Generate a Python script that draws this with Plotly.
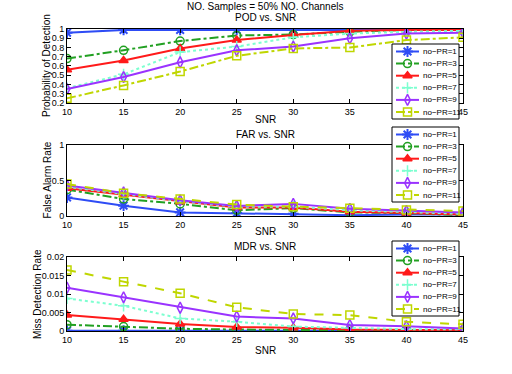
import plotly.graph_objects as go

# SNR values shared by all three panels
snr = [10, 15, 20, 25, 30, 35, 40, 45]
names = ["no\u2212PR=1", "no\u2212PR=3", "no\u2212PR=5", "no\u2212PR=7", "no\u2212PR=9", "no\u2212PR=11"]

# Probability of detection
pod_pr1 = [0.96, 0.99, 0.99, 0.99, 0.995, 0.995, 0.99, 0.99]
pod_pr3 = [0.68, 0.77, 0.87, 0.93, 0.94, 0.97, 0.99, 0.99]
pod_pr5 = [0.56, 0.66, 0.79, 0.88, 0.935, 0.98, 0.99, 0.99]
pod_pr7 = [0.36, 0.51, 0.75, 0.81, 0.91, 0.95, 0.97, 0.98]
pod_pr9 = [0.35, 0.48, 0.64, 0.77, 0.81, 0.90, 0.95, 0.96]
pod_pr11 = [0.25, 0.39, 0.54, 0.71, 0.79, 0.80, 0.88, 0.91]

# False alarm rate
far_pr1 = [0.26, 0.145, 0.05, 0.04, 0.03, 0.01, 0.02, 0.02]
far_pr3 = [0.37, 0.24, 0.17, 0.08, 0.11, 0.05, 0.04, 0.01]
far_pr5 = [0.39, 0.30, 0.20, 0.12, 0.12, 0.06, 0.04, 0.02]
far_pr7 = [0.41, 0.31, 0.21, 0.13, 0.13, 0.08, 0.05, 0.03]
far_pr9 = [0.43, 0.33, 0.22, 0.14, 0.17, 0.10, 0.07, 0.05]
far_pr11 = [0.45, 0.32, 0.24, 0.16, 0.13, 0.11, 0.085, 0.07]

# Miss detection rate
mdr_pr1 = [0.0001, 0.0001, 0.0001, 0.0001, 0.0001, 0.0001, 0.0001, 0.0001]
mdr_pr3 = [0.0017, 0.0012, 0.0006, 0.0004, 0.0002, 0.0002, 0.0001, 0.0001]
mdr_pr5 = [0.0043, 0.0032, 0.0019, 0.0011, 0.0009, 0.0004, 0.0003, 0.0002]
mdr_pr7 = [0.0088, 0.0068, 0.0034, 0.0025, 0.0012, 0.0008, 0.0005, 0.0005]
mdr_pr9 = [0.0117, 0.0091, 0.0063, 0.0039, 0.0034, 0.0016, 0.0013, 0.0007]
mdr_pr11 = [0.0165, 0.0133, 0.0102, 0.0064, 0.0046, 0.0043, 0.0025, 0.0018]

colors = ["#2e4cf5", "#22a022", "#ff1a1a", "#7dffd0", "#9a33ff", "#bfd600"]
symbols = ["asterisk-open", "circle-open", "triangle-up", "cross-thin-open", "diamond-tall-open", "square-open"]
dashes_top = ["solid", "dashdot", "solid", "dot", "solid", "dashdot"]
dashes = ["solid", "dashdot", "solid", "dot", "solid", "dash"]

panels = [
    ([pod_pr1, pod_pr3, pod_pr5, pod_pr7, pod_pr9, pod_pr11], "x", "y", dashes_top),
    ([far_pr1, far_pr3, far_pr5, far_pr7, far_pr9, far_pr11], "x2", "y2", dashes),
    ([mdr_pr1, mdr_pr3, mdr_pr5, mdr_pr7, mdr_pr9, mdr_pr11], "x3", "y3", dashes),
]


def marker_for(i):
    return dict(symbol=symbols[i], size=8 if i != 0 else 9, color=colors[i],
                line=dict(color=colors[i], width=2 if i == 0 else 1.5))


fig = go.Figure()
for series, xax, yax, dsh in panels:
    for i, vals in enumerate(series):
        fig.add_trace(go.Scatter(
            x=snr, y=vals, name=names[i], mode="lines+markers", showlegend=False,
            xaxis=xax, yaxis=yax,
            line=dict(color=colors[i], width=2, dash=dsh[i]),
            marker=marker_for(i),
        ))

# legend boxes, drawn on an overlay subplot measured in screen pixels
# (MATLAB-style compact legends; plotly's own legend rows are too tall)
L, T, B, R = 67, 29, 331, 463
legend_tops = [44, 127, 241]
box_w, box_h, row_h = 67, 75, 12.1
annotations = []
for k, top in enumerate(legend_tops):
    x0 = 392
    fig.add_trace(go.Scatter(
        x=[x0, x0 + box_w, x0 + box_w, x0, x0], y=[top, top, top + box_h, top + box_h, top],
        mode="lines", fill="toself", fillcolor="white",
        line=dict(color="black", width=1), xaxis="x4", yaxis="y4",
        showlegend=False, hoverinfo="skip"))
    dsh = panels[k][3]
    for i in range(6):
        yy = top + 7.5 + row_h * i
        fig.add_trace(go.Scatter(
            x=[x0 + 4, x0 + 27], y=[yy, yy], mode="lines",
            line=dict(color=colors[i], width=2, dash=dsh[i]),
            xaxis="x4", yaxis="y4", showlegend=False, hoverinfo="skip"))
        fig.add_trace(go.Scatter(
            x=[x0 + 15.5], y=[yy], mode="markers", marker=marker_for(i),
            xaxis="x4", yaxis="y4", showlegend=False, hoverinfo="skip"))
        annotations.append(dict(text=names[i], x=x0 + 29, y=yy, xref="x4", yref="y4",
                                xanchor="left", yanchor="middle", showarrow=False,
                                font=dict(size=8)))

font = dict(family="Liberation Sans, Arial, sans-serif", size=10, color="black")
axis_common = dict(showline=True, linecolor="black", linewidth=1, mirror="ticks",
                   ticks="inside", ticklen=4, tickcolor="black", showgrid=False,
                   zeroline=False, tickfont=dict(size=9))
xaxis_common = dict(axis_common, range=[10, 45], tickvals=snr, domain=[0, 1])

domains = [[0.755, 1.0], [0.381, 0.616], [0.0, 0.245]]

titles = [
    ("NO. Samples = 50% NO. Channels", 1.0, 23),
    ("POD vs. SNR", 1.0, 12),
    ("FAR vs. SNR", domains[1][1], 10),
    ("MDR vs. SNR", domains[2][1], 11),
    ("SNR", domains[0][0], -17),
    ("SNR", domains[1][0], -16),
    ("SNR", domains[2][0], -19),
]
for text, yp, shift in titles:
    annotations.append(dict(text=text, x=0.5, y=yp, xref="paper", yref="paper",
                            yanchor="middle", yshift=shift, showarrow=False,
                            font=dict(size=10)))

# y-axis titles, placed like the MATLAB ylabels
ytitles = [("Probability of Detection", domains[0], -20),
           ("False Alarm Rate", domains[1], -20),
           ("Miss Detection Rate", domains[2], -30)]
for text, dom, xs in ytitles:
    annotations.append(dict(text=text, x=0, y=(dom[0] + dom[1]) / 2, xref="paper",
                            yref="paper", xanchor="center", yanchor="middle", xshift=xs,
                            textangle=-90, showarrow=False, font=dict(size=10)))

fig.update_layout(
    width=512, height=374,
    margin=dict(l=L, r=512 - R, t=T, b=374 - B),
    paper_bgcolor="white", plot_bgcolor="rgba(0,0,0,0)",
    font=font,
    showlegend=False,
    xaxis=dict(xaxis_common, anchor="y"),
    xaxis2=dict(xaxis_common, anchor="y2"),
    xaxis3=dict(xaxis_common, anchor="y3"),
    yaxis=dict(axis_common, domain=domains[0], range=[0.2, 1],
               tickvals=[0.2, 0.3, 0.4, 0.5, 0.6, 0.7, 0.8, 0.9, 1],
               ticktext=["0.2", "0.3", "0.4", "0.5", "0.6", "0.7", "0.8", "0.9", "1"]),
    yaxis2=dict(axis_common, domain=domains[1], range=[0, 1],
                tickvals=[0, 0.5, 1], ticktext=["0", "0.5", "1"]),
    yaxis3=dict(axis_common, domain=domains[2], range=[0, 0.02],
                tickvals=[0, 0.005, 0.01, 0.015, 0.02],
                ticktext=["0", "0.005", "0.01", "0.015", "0.02"]),
    xaxis4=dict(domain=[0, 1], range=[L, R], visible=False, fixedrange=True, anchor="y4"),
    yaxis4=dict(domain=[0, 1], range=[B, T], visible=False, fixedrange=True, anchor="x4"),
    annotations=annotations,
)

# the page body has a default 8px margin; drop it so the figure sits at the corner
fig.write_html("out.html", config={"displayModeBar": False},
               post_script="document.body.style.margin='0';")
